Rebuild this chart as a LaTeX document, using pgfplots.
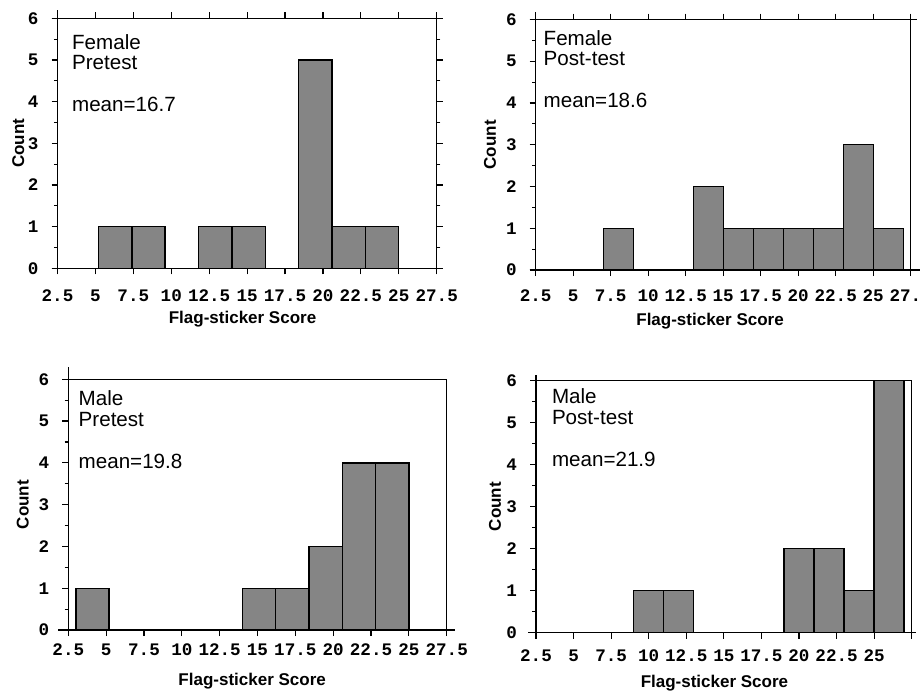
\documentclass[border=0pt]{standalone}
\usepackage{fontspec}
\setmainfont{Liberation Sans}
\newfontfamily\tickfont{Liberation Mono}
\usepackage{pgfplots}
\pgfplotsset{compat=1.18}

\pgfplotsset{
 hist/.style={
  scale only axis, anchor=south west,
  xmin=2.5, xmax=27.5, ymin=0, ymax=6,
  xtick={2.5,5,7.5,10,12.5,15,17.5,20,22.5,25,27.5},
  ytick={0,1,2,3,4,5,6},
  minor ytick={0.5,1.5,2.5,3.5,4.5,5.5},
  tick align=outside,
  major tick length=3pt, minor tick length=1.8pt,
  tick style={black, line width=0.6pt},
  axis line style={line width=0.6pt},
  /pgf/number format/assume math mode=true,
  /pgf/number format/fixed,
  tick label style={font=\tickfont\bfseries\fontsize{8.8}{9}\selectfont},
  yticklabel style={xshift=-3pt},
  label style={font=\bfseries\fontsize{8.5}{10}\selectfont},
  xlabel={Flag-sticker Score}, ylabel={Count},
  clip=false,
 },
 bars/.style={ybar interval, draw=black, line width=0.7pt, fill=black!48},
}
\tikzset{ann/.style={anchor=base west, font=\fontsize{10.3}{12}\selectfont, inner sep=0pt}}

\begin{document}
\begin{tikzpicture}
% Female Pretest
\begin{axis}[hist, at={(28.75pt,211.85pt)}, width=189.6pt, height=125pt,
  xlabel style={at={([yshift=-27.5pt]axis description cs:0.488,0)}, anchor=base},
  ylabel style={at={([xshift=-19.6pt]axis description cs:0,0.5)}, anchor=center},
  xticklabel style={anchor=base, yshift=-13.7pt}]
\addplot[bars] coordinates {(5.2,1) (7.4,1) (9.6,0)};
\addplot[bars] coordinates {(11.8,1) (14.0,1) (16.2,0)};
\addplot[bars] coordinates {(18.4,5) (20.6,1) (22.8,1) (25.0,0)};
\node[ann] at ([xshift=7.1pt,yshift=-15.5pt]rel axis cs:0,1) {Female};
\node[ann] at ([xshift=7.1pt,yshift=-25.8pt]rel axis cs:0,1) {Pretest};
\node[ann] at ([xshift=7.1pt,yshift=-46.7pt]rel axis cs:0,1) {mean=16.7};
\draw[line width=0.6pt] ([xshift=-3pt]rel axis cs:0,0) -- ([xshift=3pt]rel axis cs:1,0);
\draw[line width=0.6pt] ([xshift=-3pt]rel axis cs:0,1) -- ([xshift=3pt]rel axis cs:1,1);
\draw[line width=0.6pt] (rel axis cs:0,1) -- ([yshift=4pt]rel axis cs:0,1);
\end{axis}
% Female Post-test
\begin{axis}[hist, at={(267.85pt,211pt)}, width=187.5pt, height=125.25pt,
  ytick pos=left,
  xlabel style={at={([yshift=-27.5pt]axis description cs:0.465,0)}, anchor=base},
  ylabel style={at={([xshift=-22.8pt]axis description cs:0,0.5)}, anchor=center},
  xticklabel style={anchor=base, yshift=-12.9pt}]
\addplot[bars] coordinates {(7,1) (9,0)};
\addplot[bars] coordinates {(13,2) (15,1) (17,1) (19,1) (21,1) (23,3) (25,1) (27,0)};
\node[ann] at ([xshift=3.8pt,yshift=-12.8pt]rel axis cs:0,1) {Female};
\node[ann] at ([xshift=3.8pt,yshift=-22.8pt]rel axis cs:0,1) {Post-test};
\node[ann] at ([xshift=3.8pt,yshift=-44pt]rel axis cs:0,1) {mean=18.6};
\draw[line width=0.6pt] ([xshift=-3pt]rel axis cs:0,0) -- ([xshift=4.5pt]rel axis cs:1,0);
\draw[line width=0.6pt] ([xshift=-3pt]rel axis cs:0,1) -- ([xshift=3pt]rel axis cs:1,1);
\draw[line width=0.6pt] (rel axis cs:0,1) -- ([yshift=4pt]rel axis cs:0,1);
\end{axis}
% Male Pretest
\begin{axis}[hist, at={(34.15pt,31pt)}, width=189.2pt, height=125.35pt,
  xtick pos=left, ytick pos=left,
  xlabel style={at={([yshift=-27.5pt]axis description cs:0.486,0)}, anchor=base},
  ylabel style={at={([xshift=-22.8pt]axis description cs:0,0.5)}, anchor=center},
  xticklabel style={anchor=base, yshift=-9.5pt}]
\addplot[bars] coordinates {(3.0,1) (5.2,0)};
\addplot[bars] coordinates {(14.0,1) (16.2,1) (18.4,2) (20.6,4) (22.8,4) (25.0,0)};
\node[ann] at ([xshift=5pt,yshift=-13.2pt]rel axis cs:0,1) {Male};
\node[ann] at ([xshift=5pt,yshift=-23.7pt]rel axis cs:0,1) {Pretest};
\node[ann] at ([xshift=5pt,yshift=-44.8pt]rel axis cs:0,1) {mean=19.8};
\draw[line width=0.6pt] ([xshift=-5pt]rel axis cs:0,0) -- ([xshift=4pt]rel axis cs:1,0);
\draw[line width=0.6pt] (rel axis cs:0,1) -- ([yshift=6pt]rel axis cs:0,1);
\end{axis}
% Male Post-test
\begin{axis}[hist, at={(268pt,29.65pt)}, width=187.85pt, height=126pt,
  xtick pos=left, ytick pos=left,
  xticklabels={2.5,5,7.5,10,12.5,15,17.5,20,22.5,25,{}},
  xlabel style={at={([yshift=-27.3pt]axis description cs:0.475,0)}, anchor=base},
  ylabel style={at={([xshift=-20.5pt]axis description cs:0,0.5)}, anchor=center},
  xticklabel style={anchor=base, yshift=-11.5pt}]
\addplot[bars] coordinates {(9,1) (11,1) (13,0)};
\addplot[bars] coordinates {(19,2) (21,2) (23,1) (25,6) (27,0)};
\node[ann] at ([xshift=7.8pt,yshift=-11.3pt]rel axis cs:0,1) {Male};
\node[ann] at ([xshift=7.8pt,yshift=-21.7pt]rel axis cs:0,1) {Post-test};
\node[ann] at ([xshift=7.8pt,yshift=-42.7pt]rel axis cs:0,1) {mean=21.9};
\draw[line width=0.6pt] ([xshift=-4pt]rel axis cs:0,0) -- ([xshift=2pt]rel axis cs:1,0);
\draw[line width=0.6pt] (rel axis cs:0,1) -- ([yshift=3pt]rel axis cs:0,1);
\end{axis}
\pgfresetboundingbox
\path (0,0) rectangle (460.5pt,346pt);
\end{tikzpicture}
\end{document}
